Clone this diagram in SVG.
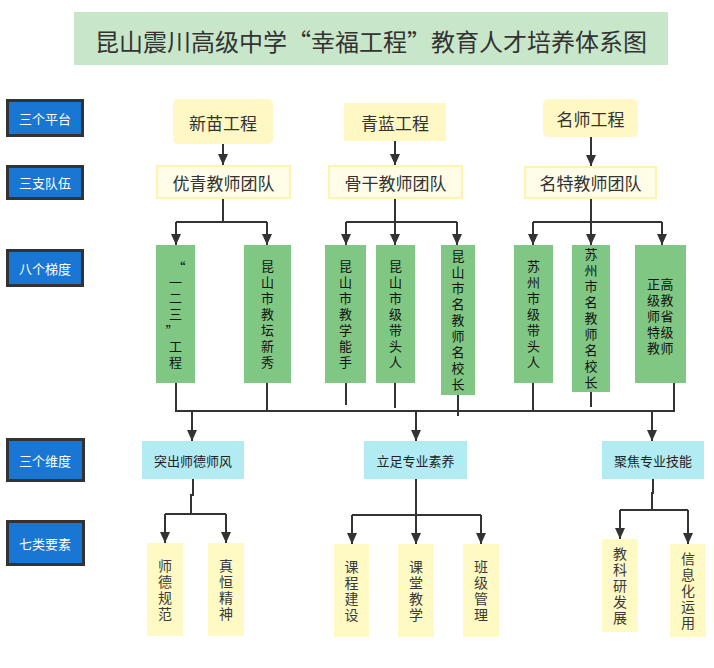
<svg xmlns="http://www.w3.org/2000/svg" width="714" height="668" viewBox="0 0 714 668">
<defs>
<marker id="ah" markerUnits="userSpaceOnUse" markerWidth="10" markerHeight="11" refX="5" refY="11" orient="0" viewBox="0 0 10 11">
<path d="M0,0 L10,0 L5,11 Z" fill="#333"/>
</marker>
<style>
text{font-family:"Noto Sans CJK SC","Noto Sans",sans-serif;dominant-baseline:central;text-anchor:middle}
.v{writing-mode:vertical-rl}
.title{font-size:24px;fill:#333}
.lab rect{fill:#1976d2;stroke:#333;stroke-width:3}
.lab text{font-size:13px;fill:#fff}
.plat rect{fill:#fff8c4}
.plat text{font-size:17px;fill:#333}
.team rect{fill:#fffde8;stroke:#fff3b0;stroke-width:2}
.team text{font-size:17px;fill:#333}
.grad rect{fill:#81c784}
.grad text{font-size:13px;fill:#111}
.grad .v{letter-spacing:3px}
.dim rect{fill:#b2ebf2}
.dim text{font-size:13px;fill:#222}
.elem rect{fill:#fff9c4}
.elem text{font-size:14px;fill:#3a3a3a;letter-spacing:2px}
.conn path{fill:none;stroke:#333;stroke-width:2}
.conn .a{marker-end:url(#ah)}
</style>
</defs>
<rect width="714" height="668" fill="#fff"/>
<g id="title">
<rect x="74" y="12" width="594" height="53" fill="#c8e6c9"/>
<text class="title" x="371" y="40">昆山震川高级中学“幸福工程”教育人才培养体系图</text>
</g>
<g id="label-platform" class="lab"><rect x="7.5" y="100.5" width="75" height="35"/><text x="45" y="118">三个平台</text></g>
<g id="label-team" class="lab"><rect x="7.5" y="166.5" width="75" height="32"/><text x="45" y="182">三支队伍</text></g>
<g id="label-grad" class="lab"><rect x="7.5" y="250.5" width="75" height="35"/><text x="45" y="268">八个梯度</text></g>
<g id="label-dim" class="lab"><rect x="7.5" y="439.5" width="76" height="41"/><text x="45" y="460">三个维度</text></g>
<g id="label-elem" class="lab"><rect x="7.5" y="521.5" width="76" height="43"/><text x="45" y="543">七类要素</text></g>

<g id="p1" class="plat"><rect x="173" y="99" width="100" height="45" rx="5"/><text x="223" y="122">新苗工程</text></g>
<g id="p2" class="plat"><rect x="344" y="103" width="102" height="38"/><text x="395" y="122">青蓝工程</text></g>
<g id="p3" class="plat"><rect x="543" y="99" width="95" height="38" rx="5"/><text x="590.5" y="118.5">名师工程</text></g>

<g id="t1" class="team"><rect x="157" y="166" width="133" height="32"/><text x="223.5" y="182">优青教师团队</text></g>
<g id="t2" class="team"><rect x="329" y="166" width="133" height="32"/><text x="395.5" y="182">骨干教师团队</text></g>
<g id="t3" class="team"><rect x="525" y="167" width="131" height="31"/><text x="590.5" y="182.5">名特教师团队</text></g>

<g id="g1" class="grad"><rect x="156" y="245" width="39" height="138"/>
<text x="179" y="266">“</text>
<text class="v" x="175.5" y="299.5">一二三</text>
<text x="172" y="330">”</text>
<text class="v" x="175.5" y="355.5">工程</text></g>
<g id="g2" class="grad"><rect x="244" y="245" width="47" height="138"/><text class="v" x="267.5" y="315.5">昆山市教坛新秀</text></g>
<g id="g3" class="grad"><rect x="325" y="245" width="41" height="138"/><text class="v" x="345.5" y="315.5">昆山市教学能手</text></g>
<g id="g4" class="grad"><rect x="376" y="245" width="39" height="138"/><text class="v" x="395.5" y="315.5">昆山市级带头人</text></g>
<g id="g5" class="grad"><rect x="441" y="245" width="34" height="150"/><text class="v" x="458" y="321.5">昆山市名教师名校长</text></g>
<g id="g6" class="grad"><rect x="514" y="245" width="39" height="138"/><text class="v" x="533.5" y="315.5">苏州市级带头人</text></g>
<g id="g7" class="grad"><rect x="572" y="245" width="38" height="147"/><text class="v" x="591" y="319.5">苏州市名教师名校长</text></g>
<g id="g8" class="grad"><rect x="635" y="245" width="51" height="138"/>
<text x="660.5" y="283" letter-spacing="0.5">正高</text><text x="660.5" y="299" letter-spacing="0.5">级教</text><text x="660.5" y="315" letter-spacing="0.5">师省</text><text x="660.5" y="331" letter-spacing="0.5">特级</text><text x="660.5" y="347" letter-spacing="0.5">教师</text></g>

<g id="d1" class="dim"><rect x="142" y="441" width="102" height="38"/><text x="193" y="460">突出师德师风</text></g>
<g id="d2" class="dim"><rect x="364" y="441" width="103" height="38"/><text x="415.5" y="460">立足专业素养</text></g>
<g id="d3" class="dim"><rect x="602" y="441" width="102" height="38"/><text x="653" y="460">聚焦专业技能</text></g>

<g id="e1" class="elem"><rect x="147" y="543" width="36" height="93"/><text class="v" x="165" y="590.5">师德规范</text></g>
<g id="e2" class="elem"><rect x="208" y="543" width="36" height="93"/><text class="v" x="226" y="590.5">真恒精神</text></g>
<g id="e3" class="elem"><rect x="334" y="544" width="35" height="93"/><text class="v" x="351.5" y="592">课程建设</text></g>
<g id="e4" class="elem"><rect x="398" y="544" width="36" height="93"/><text class="v" x="416" y="592">课堂教学</text></g>
<g id="e5" class="elem"><rect x="463" y="544" width="36" height="93"/><text class="v" x="481" y="592">班级管理</text></g>
<g id="e6" class="elem"><rect x="602" y="539" width="36" height="93"/><text class="v" x="620" y="587">教科研发展</text></g>
<g id="e7" class="elem"><rect x="670" y="544" width="36" height="93"/><text class="v" x="688" y="592">信息化运用</text></g>

<g id="connectors" class="conn">
<path class="a" d="M223,144 V165"/>
<path class="a" d="M395,141 V165"/>
<path class="a" d="M591,137 V166"/>
<path d="M223,199 V222 M176,222 H267 M346,222 H457 M533,222 H662 M395,199 V222 M591,199 V222"/>
<path class="a" d="M176,222 V245"/>
<path class="a" d="M267,222 V245"/>
<path class="a" d="M346,222 V245"/>
<path class="a" d="M395,222 V245"/>
<path class="a" d="M457,222 V245"/>
<path class="a" d="M533,222 V245"/>
<path class="a" d="M591,222 V245"/>
<path class="a" d="M662,222 V245"/>
<path d="M176,383 V411 H674 V383 M267,383 V411 M346,383 V405 M395,383 V408 M458,395 V416 M533,383 V411 M591,392 V407"/>
<path class="a" d="M192,411 V441"/>
<path class="a" d="M416,411 V441"/>
<path class="a" d="M652,411 V441"/>
<path d="M193,479 V495 H191 V514 M165,514 H226"/>
<path class="a" d="M165,514 V543"/>
<path class="a" d="M226,514 V543"/>
<path class="a" d="M416,479 V544"/>
<path d="M352,515 H481"/>
<path class="a" d="M352,515 V544"/>
<path class="a" d="M481,515 V544"/>
<path d="M653,479 V493 H652 V510 M620,510 H688"/>
<path class="a" d="M620,510 V539"/>
<path class="a" d="M688,510 V544"/>
</g>
</svg>
